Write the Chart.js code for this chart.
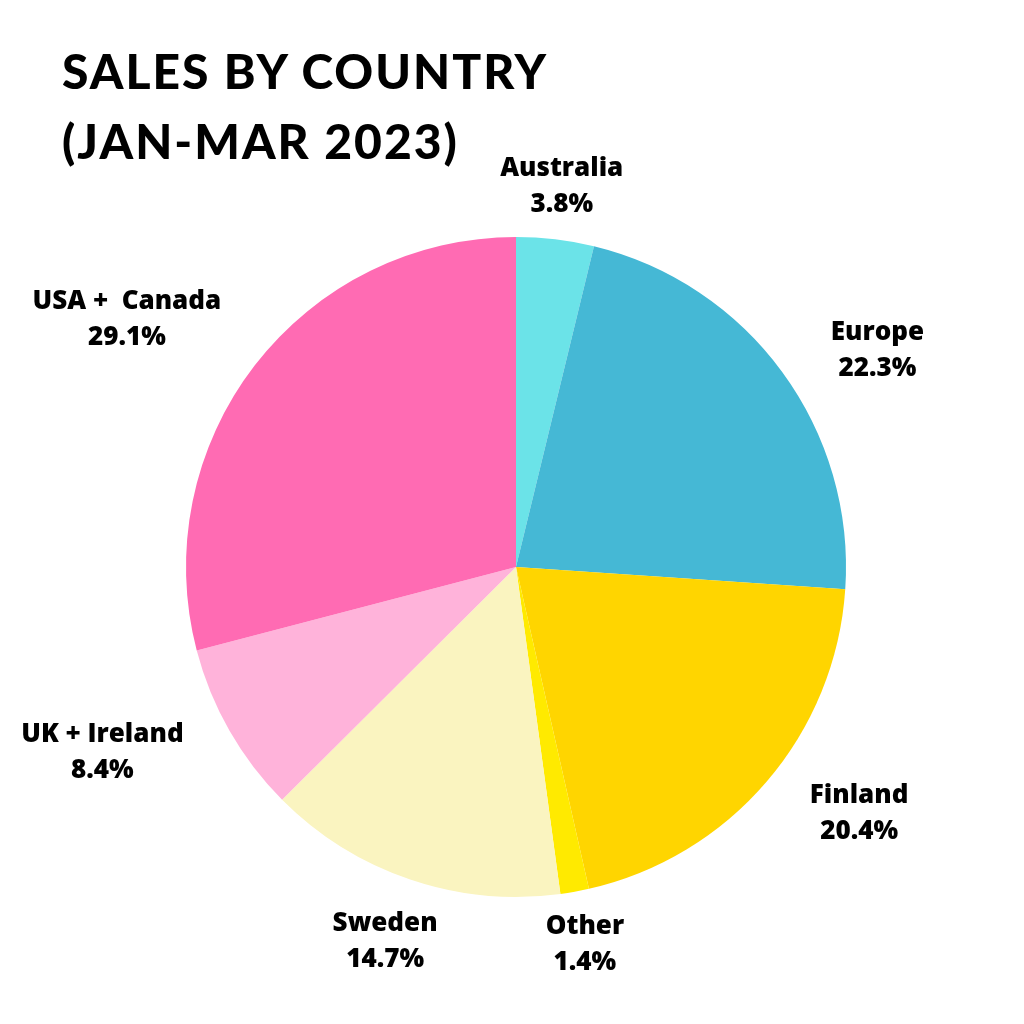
<!DOCTYPE html>
<html>
<head>
<meta charset="utf-8">
<script src="https://cdn.jsdelivr.net/npm/chart.js@4"></script>
<style>
    body{ margin:0; background:#fff; }
    #wrap{ position:relative; width:1024px; height:1024px; }
    #title{
        position:absolute; left:62px; top:36px;
        font-family:'Lato', sans-serif; font-weight:900; font-size:48px;
        letter-spacing:2px; line-height:70px; color:#000;
    }
</style>
</head>
<body>
<div id="wrap">
    <canvas id="chart1" width="1024" height="1024"></canvas>
    <div id="title">SALES BY COUNTRY<br>(JAN-MAR 2023)</div>
</div>
<script>
// data (clockwise from 12 o'clock)
var labels = ['Australia', 'Europe', 'Finland', 'Other', 'Sweden', 'UK + Ireland', 'USA +  Canada'];
var shares = [3.8, 22.3, 20.4, 1.4, 14.7, 8.4, 29.1];
var colors = ['#6be3e8', '#45b8d5', '#ffd500', '#ffea00', '#faf4c0', '#ffb3da', '#ff6bb3'];

// labels outside the pie: name + percent
var outLabels = {
    id: 'outLabels',
    afterDatasetsDraw: function(chart){
        var ctx = chart.ctx;
        var meta = chart.getDatasetMeta(0);
        ctx.save();
        ctx.font = "800 26px 'Open Sans', sans-serif";
        ctx.fillStyle = '#000';
        ctx.textAlign = 'center';
        ctx.textBaseline = 'middle';
        for(var i = 0; i < meta.data.length; i++){
            var arc = meta.data[i];
            var p = arc.getProps(['x', 'y', 'startAngle', 'endAngle', 'outerRadius'], true);
            var mid = (p.startAngle + p.endAngle) / 2;
            // pull side labels toward the horizontal, leave top/bottom ones alone
            var cm = Math.cos(mid);
            mid = mid - 0.15 * Math.sin(2 * mid) * cm * cm;
            var line1 = labels[i];
            var line2 = shares[i].toFixed(1) + '%';
            var hw = Math.max(ctx.measureText(line1).width, ctx.measureText(line2).width) / 2;
            var hh = 34;
            var s = Math.abs(Math.cos(mid)), c = Math.abs(Math.sin(mid));
            var dist = p.outerRadius + 8 + 30 * s + hw * s + hh * c;
            var cx = p.x + Math.cos(mid) * dist;
            var cy = p.y + Math.sin(mid) * dist;
            ctx.fillText(line1, cx, cy - 18);
            ctx.fillText(line2, cx, cy + 18);
        }
        ctx.restore();
    }
};

var ctx = document.getElementById('chart1').getContext('2d');
var myChart = new Chart(ctx, {
    type: 'pie',
    data: {
        labels: labels,
        datasets: [{
            data: shares,
            backgroundColor: colors,
            borderWidth: 0
        }]
    },
    options: {
        responsive: false,
        animation: false,
        layout: {
            padding: { left: 186, right: 178, top: 237, bottom: 127 }
        },
        plugins: {
            legend: { display: false },
            tooltip: { enabled: false }
        }
    },
    plugins: [outLabels]
});
</script>
</body>
</html>
